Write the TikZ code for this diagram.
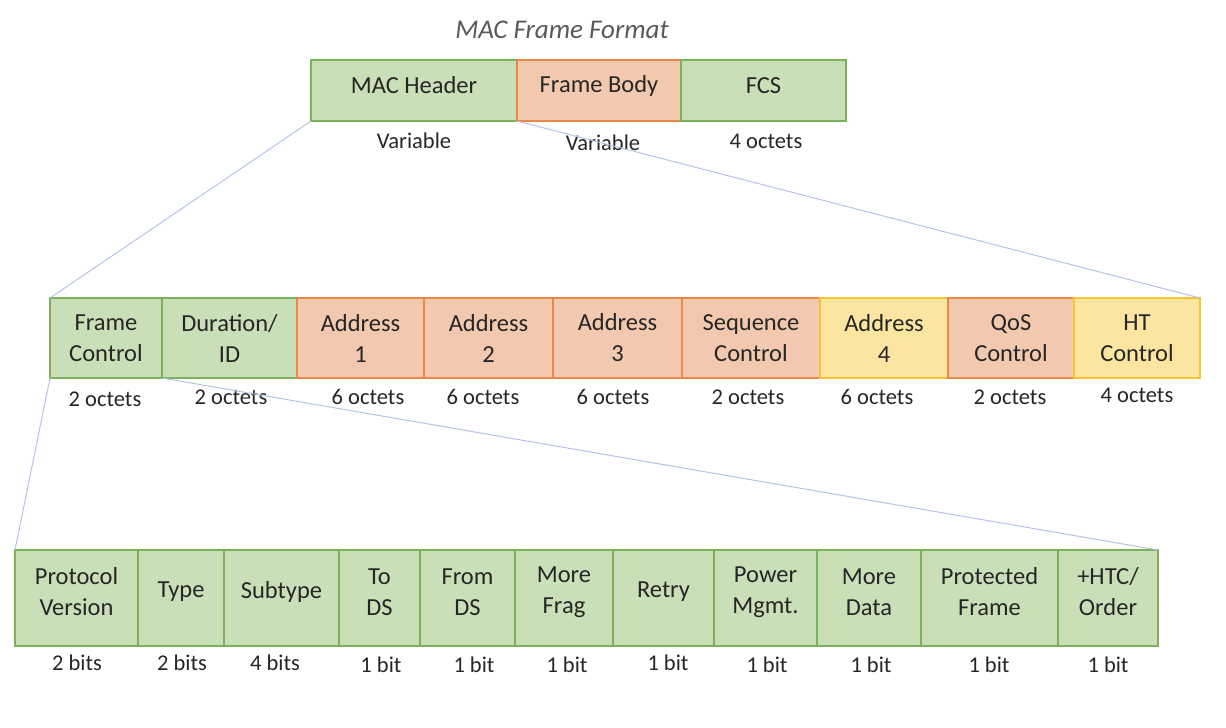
\documentclass[tikz,border=0pt]{standalone}
\usepackage{fontspec}
\setmainfont{Carlito}
\begin{document}
\begin{tikzpicture}[x=1pt,y=-1pt,
  every node/.style={inner sep=0pt, outer sep=0pt, text=txt},
  box/.style={draw, line width=1.3pt, anchor=north west, align=center, font=\fontsize{24.5}{31}\selectfont},
  gbox/.style={box, fill=gfill, draw=gline},
  obox/.style={box, fill=ofill, draw=oline},
  ybox/.style={box, fill=yfill, draw=yline},
  sz/.style={font=\fontsize{22.5}{26}\selectfont, anchor=center},
  conn/.style={draw=lnk, line width=1pt}]
\definecolor{gfill}{HTML}{C9DFB8}
\definecolor{gline}{HTML}{7DB05A}
\definecolor{ofill}{HTML}{F2C9AE}
\definecolor{oline}{HTML}{E8894A}
\definecolor{yfill}{HTML}{FBE5A0}
\definecolor{yline}{HTML}{F7C533}
\definecolor{lnk}{HTML}{B4C4E6}
\definecolor{txt}{HTML}{262626}
\definecolor{ttl}{HTML}{595959}
\useasboundingbox (0,0) rectangle (1226,728);

\node[font=\itshape\fontsize{27}{30}\selectfont, text=ttl] (title) at (562,30) {MAC Frame Format};

% top row
\node[gbox, minimum width=206, minimum height=61] (mh) at (311,60) {};
\node[obox, minimum width=164, minimum height=61] (fb) at (517,60) {};
\node[gbox, minimum width=165, minimum height=61] (fcs) at (681,60) {};
\foreach \n/\t in {mh/{MAC Header}, fb/{Frame Body}, fcs/{FCS}}
  \node[font=\fontsize{24.5}{31}\selectfont] (t\n) at ([yshift=5pt]\n.center) {\t};
\node[sz] (lmh) at (414,141) {Variable};
\node[sz] (lfb) at (603,143) {Variable};
\node[sz] (lfcs) at (766,141) {4 octets};

% middle row
\node[gbox, minimum width=112, minimum height=80] (fc) at (50,298) {Frame\\Control};
\node[gbox, minimum width=135, minimum height=80] (dur) at (162,298) {Duration/\\ID};
\node[obox, minimum width=127, minimum height=80] (a1) at (297,298) {Address\\1};
\node[obox, minimum width=129, minimum height=80] (a2) at (424,298) {Address\\2};
\node[obox, minimum width=129, minimum height=80] (a3) at (553,298) {Address\\3};
\node[obox, minimum width=138, minimum height=80] (sc) at (682,298) {Sequence\\Control};
\node[ybox, minimum width=128, minimum height=80] (a4) at (820,298) {Address\\4};
\node[obox, minimum width=126, minimum height=80] (qos) at (948,298) {QoS\\Control};
\node[ybox, minimum width=126, minimum height=80] (ht) at (1074,298) {HT\\Control};
\node[sz] at (105,399) {2 octets};
\node[sz] at (231,397) {2 octets};
\node[sz] at (368,397) {6 octets};
\node[sz] at (483,397) {6 octets};
\node[sz] at (613,397) {6 octets};
\node[sz] at (748,397) {2 octets};
\node[sz] at (877,397) {6 octets};
\node[sz] at (1010,397) {2 octets};
\node[sz] at (1137,395) {4 octets};

% bottom row
\node[gbox, minimum width=123, minimum height=96] (pv) at (15,550) {};
\node[gbox, minimum width=86, minimum height=96] (ty) at (138,550) {};
\node[gbox, minimum width=115, minimum height=96] (st) at (224,550) {};
\node[gbox, minimum width=81, minimum height=96] (tds) at (339,550) {};
\node[gbox, minimum width=95, minimum height=96] (fds) at (420,550) {};
\node[gbox, minimum width=98, minimum height=96] (mf) at (515,550) {};
\node[gbox, minimum width=101, minimum height=96] (re) at (613,550) {};
\node[gbox, minimum width=103, minimum height=96] (pm) at (714,550) {};
\node[gbox, minimum width=104, minimum height=96] (md) at (817,550) {};
\node[gbox, minimum width=137, minimum height=96] (pf) at (921,550) {};
\node[gbox, minimum width=100, minimum height=96] (ord) at (1058,550) {};
\foreach \n/\t in {pv/{Protocol\\Version}, ty/{Type}, st/{Subtype}, tds/{To\\DS}, fds/{From\\DS}, mf/{More\\Frag}, re/{Retry}, pm/{Power\\Mgmt.}, md/{More\\Data}, pf/{Protected\\Frame}, ord/{+HTC/\\Order}}
  \node[align=center, font=\fontsize{24.5}{31}\selectfont] (t\n) at ([yshift=6pt]\n.center) {\t};
\node[sz] at (77,663) {2 bits};
\node[sz] at (182,663) {2 bits};
\node[sz] at (275,663) {4 bits};
\node[sz] at (381,665) {1 bit};
\node[sz] at (474,665) {1 bit};
\node[sz] at (567,665) {1 bit};
\node[sz] at (668,663) {1 bit};
\node[sz] at (767,665) {1 bit};
\node[sz] at (871,665) {1 bit};
\node[sz] at (989,665) {1 bit};
\node[sz] at (1108,665) {1 bit};

% connectors
\draw[conn] (mh.south west) -- (fc.north west);
\draw[conn] (fb.south west) -- (ht.north east);
\draw[conn] (fc.south west) -- (pv.north west);
\draw[conn] (fc.south east) -- (ord.north east);
\end{tikzpicture}
\end{document}
